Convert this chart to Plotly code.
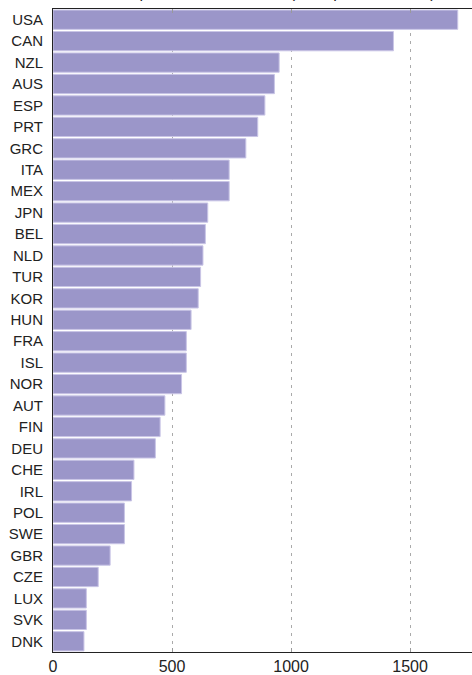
import plotly.graph_objects as go

countries = ["USA", "CAN", "NZL", "AUS", "ESP", "PRT", "GRC", "ITA", "MEX", "JPN",
             "BEL", "NLD", "TUR", "KOR", "HUN", "FRA", "ISL", "NOR", "AUT", "FIN",
             "DEU", "CHE", "IRL", "POL", "SWE", "GBR", "CZE", "LUX", "SVK", "DNK"]
values = [1700, 1430, 950, 930, 890, 860, 810, 740, 740, 650,
          640, 630, 620, 610, 580, 560, 560, 540, 470, 450,
          430, 340, 330, 300, 300, 240, 190, 140, 140, 130]
x_ticks = [0, 500, 1000, 1500]
title_text = "Annual intake per 10 000 residents (liters per inhabitant)"

fig = go.Figure(go.Bar(
    x=values, y=countries, orientation="h",
    marker=dict(color="#9b96c9", line=dict(color="#c9c5e6", width=1)),
))

fig.update_layout(
    width=472, height=675,
    margin=dict(l=53, r=0, t=9, b=23),
    paper_bgcolor="white", plot_bgcolor="white",
    bargap=0.1,
    showlegend=False,
    font=dict(family="Liberation Sans, Arial, sans-serif", color="#222"),
    annotations=[dict(text=title_text, xref="paper", yref="paper", x=-0.04, y=1,
                      xanchor="left", yanchor="bottom", yshift=6, showarrow=False,
                      font=dict(size=16, color="#222"))],
)
fig.update_xaxes(
    range=[0, 1760], tickvals=x_ticks, ticktext=[str(v) for v in x_ticks],
    showgrid=True, gridcolor="#aaa", griddash="3px,5px", gridwidth=1,
    showline=True, linecolor="#222", linewidth=1, mirror="ticks",
    ticks="inside", ticklen=4, tickcolor="#999",
    tickfont=dict(size=16), zeroline=False,
)
fig.update_yaxes(
    categoryorder="array", categoryarray=countries, autorange="reversed",
    showline=True, linecolor="#222", linewidth=1, ticks="",
    showgrid=False, tickfont=dict(size=15), ticklabelstandoff=6,
)

fig.write_html("out.html", config={"displayModeBar": False},
               post_script="document.body.style.margin='0';document.body.style.overflow='hidden';")
